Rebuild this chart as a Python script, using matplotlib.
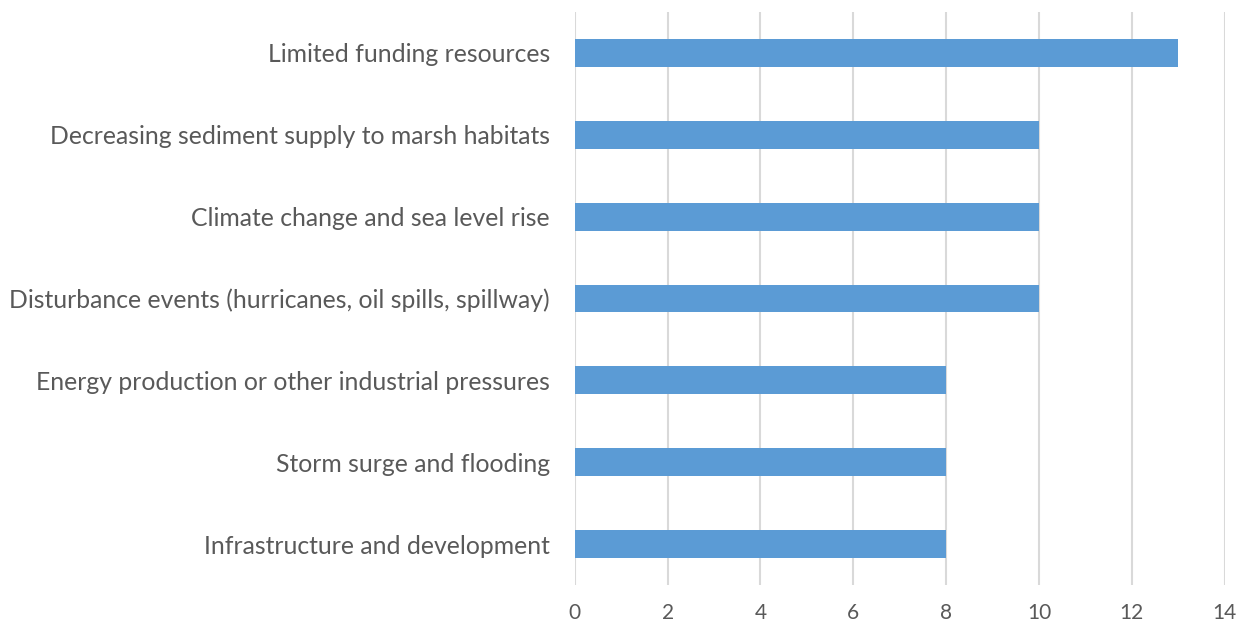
import matplotlib
matplotlib.use("Agg")
import matplotlib.pyplot as plt

categories = [
    "Limited funding resources",
    "Decreasing sediment supply to marsh habitats",
    "Climate change and sea level rise",
    "Disturbance events (hurricanes, oil spills, spillway)",
    "Energy production or other industrial pressures",
    "Storm surge and flooding",
    "Infrastructure and development",
]
values = [13, 10, 10, 10, 8, 8, 8]
xticks = [0, 2, 4, 6, 8, 10, 12, 14]

plt.rcParams['font.family'] = ['Lato', 'DejaVu Sans']
text_color = "#595959"

fig = plt.figure(figsize=(12.47, 6.28), dpi=100)
ax = fig.add_axes([0.461, 0.0685, 0.521, 0.9125])

pos = list(range(len(categories)))[::-1]
ax.barh(pos, values, height=0.34, color="#5B9BD5", zorder=3)

ax.set_xlim(0, 14)
ax.set_ylim(-0.5, len(categories) - 0.5)
ax.set_xticks(xticks)
ax.set_xticklabels([str(t) for t in xticks], fontsize=15, color=text_color)
ax.set_yticks(pos)
ax.set_yticklabels(categories, fontsize=17.8, color=text_color)
ax.tick_params(axis="both", length=0)
ax.tick_params(axis="x", pad=13)
ax.tick_params(axis="y", pad=18)

ax.grid(axis="x", color="#D9D9D9", linewidth=1.5, zorder=0)
for s in ax.spines.values():
    s.set_visible(False)

fig.savefig("out.png", dpi=100)
